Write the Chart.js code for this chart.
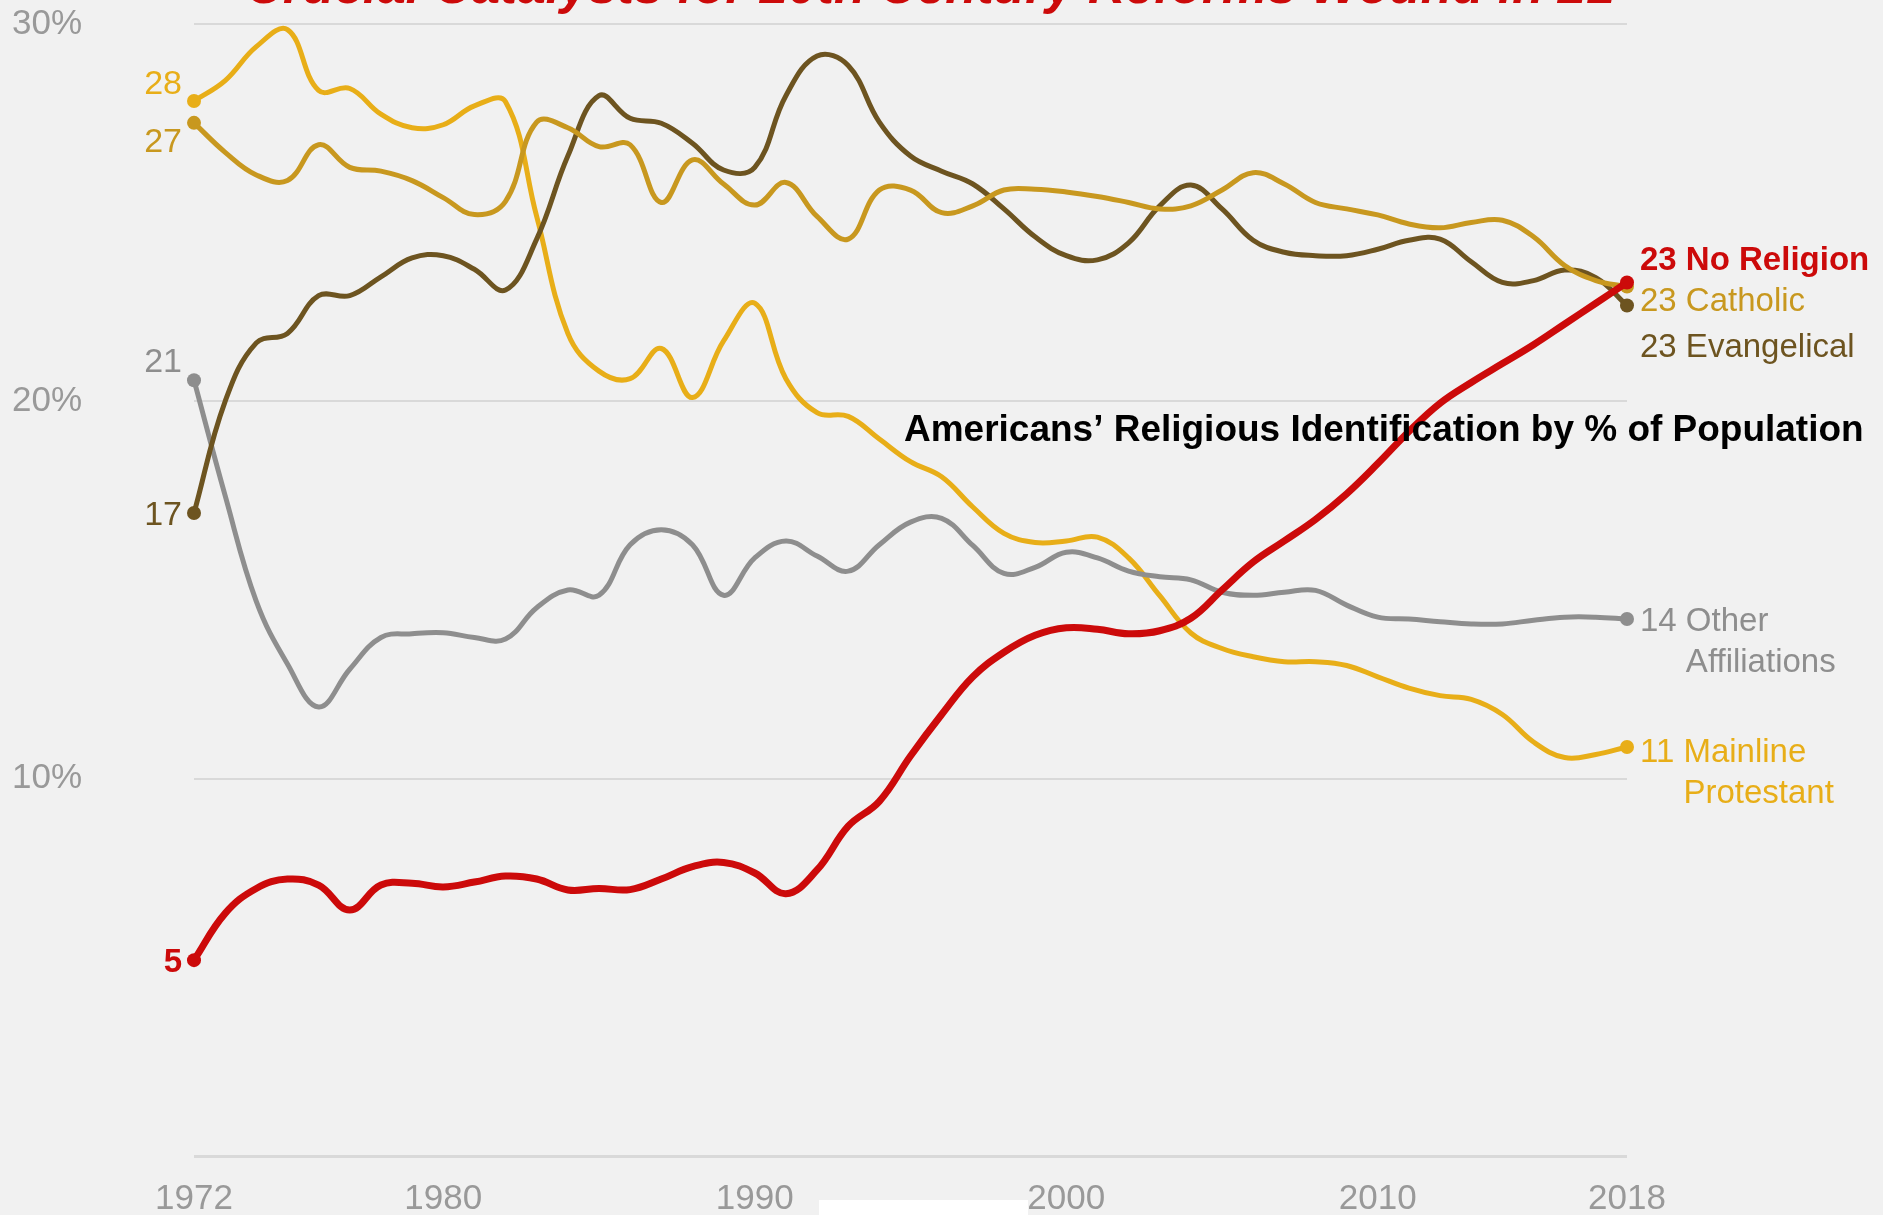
<!DOCTYPE html>
<html>
<head>
<meta charset="utf-8">
<title>Americans’ Religious Identification</title>
<script src="https://cdn.jsdelivr.net/npm/chart.js@4.4.1/dist/chart.umd.min.js"></script>
<style>
  html, body { margin: 0; padding: 0; background: #f1f1f1; }
  #wrap { width: 1883px; height: 1215px; }
</style>
</head>
<body>
<div id="wrap"><canvas id="religionChart"></canvas></div>
<script>
const years = [1972, 1973, 1974, 1975, 1976, 1977, 1978, 1979, 1980, 1981,
  1982, 1983, 1984, 1985, 1986, 1987, 1988, 1989, 1990, 1991,
  1992, 1993, 1994, 1995, 1996, 1997, 1998, 1999, 2000, 2001,
  2002, 2003, 2004, 2005, 2006, 2007, 2008, 2009, 2010, 2011,
  2012, 2013, 2014, 2015, 2016, 2017, 2018];

const noReligion = [5.19, 6.43, 7.09, 7.34, 7.18, 6.52, 7.18, 7.23, 7.13, 7.26,
  7.42, 7.34, 7.05, 7.09, 7.06, 7.34, 7.67, 7.78, 7.5, 6.95,
  7.58, 8.74, 9.4, 10.6, 11.7, 12.7, 13.35, 13.8, 14.0, 13.96,
  13.84, 13.92, 14.25, 15.0, 15.74, 16.3, 16.87, 17.55, 18.35, 19.2,
  19.95, 20.5, 21.0, 21.5, 22.05, 22.6, 23.15];

const catholic = [27.38, 26.6, 26.0, 25.85, 26.8, 26.2, 26.1, 25.85, 25.4, 24.95,
  25.3, 27.4, 27.25, 26.75, 26.8, 25.27, 26.4, 25.76, 25.2, 25.8,
  24.9, 24.3, 25.6, 25.6, 25.0, 25.18, 25.6, 25.62, 25.55, 25.43,
  25.27, 25.1, 25.18, 25.6, 26.06, 25.76, 25.27, 25.1, 24.94, 24.7,
  24.6, 24.74, 24.8, 24.36, 23.6, 23.2, 23.04];

const evangelical = [17.04, 20.0, 21.55, 21.8, 22.8, 22.8, 23.3, 23.8, 23.86, 23.5,
  22.95, 24.3, 26.5, 28.1, 27.5, 27.37, 26.84, 26.13, 26.2, 28.1,
  29.15, 28.9, 27.4, 26.5, 26.1, 25.76, 25.1, 24.36, 23.86, 23.75,
  24.2, 25.18, 25.73, 25.1, 24.27, 23.95, 23.86, 23.86, 24.03, 24.27,
  24.3, 23.7, 23.15, 23.2, 23.48, 23.28, 22.54];

const otherAffiliations = [20.56, 17.5, 14.7, 13.04, 11.9, 12.9, 13.74, 13.84, 13.87, 13.74,
  13.7, 14.53, 15.0, 14.86, 16.2, 16.6, 16.2, 14.86, 15.85, 16.3,
  15.9, 15.5, 16.2, 16.8, 16.9, 16.18, 15.44, 15.6, 16.0, 15.85,
  15.5, 15.35, 15.27, 14.94, 14.86, 14.94, 14.99, 14.6, 14.28, 14.23,
  14.16, 14.1, 14.1, 14.2, 14.28, 14.28, 14.23];

const mainline = [27.96, 28.5, 29.4, 29.85, 28.24, 28.29, 27.61, 27.25, 27.33, 27.83,
  27.94, 24.9, 21.8, 20.8, 20.6, 21.4, 20.1, 21.6, 22.6, 20.6,
  19.7, 19.6, 19.0, 18.4, 18.0, 17.2, 16.5, 16.26, 16.3, 16.4,
  15.85, 14.85, 13.86, 13.45, 13.23, 13.1, 13.1, 13.0, 12.7, 12.4,
  12.2, 12.1, 11.7, 10.97, 10.56, 10.64, 10.84];

const xTickYears = [1972, 1980, 1990, 2000, 2010, 2018];
const yTickValues = [0, 10, 20, 30];

const chartTitle = 'Crucial Catalysts for 20th Century Reforms Wound in 21';
const chartSubtitle = 'Americans’ Religious Identification by % of Population';

const FONT = '"Liberation Sans", Arial, sans-serif';
const RED = '#cc0a0a';
const CATHOLIC = '#c8981f';
const EVANGELICAL = '#6d5420';
const OTHER = '#8e8e8e';
const MAINLINE = '#e8ae18';

// label text + nudges for the start / end annotations
const series = [
  { name: 'No Religion', values: noReligion, color: RED, width: 7, bold: true,
    startDy: 0, end: ['No Religion'], endDy: -24 },
  { name: 'Catholic', values: catholic, color: CATHOLIC, width: 5,
    startDy: 17, end: ['Catholic'], endDy: 13 },
  { name: 'Evangelical', values: evangelical, color: EVANGELICAL, width: 5,
    startDy: 0, end: ['Evangelical'], endDy: 40 },
  { name: 'Other Affiliations', values: otherAffiliations, color: OTHER, width: 5,
    startDy: -20, end: ['Other', 'Affiliations'], endDy: 0 },
  { name: 'Mainline Protestant', values: mainline, color: MAINLINE, width: 5,
    startDy: -19, end: ['Mainline', 'Protestant'], endDy: 3 },
];

const ctx = document.getElementById('religionChart').getContext('2d');

function endPoint(c) {
  return (c.dataIndex === 0 || c.dataIndex === years.length - 1) ? 7 : 0;
}

// text placed by the visual middle of the capitals
function putText(c, text, x, yMid, size, color, align, weight) {
  c.save();
  c.font = (weight || '') + ' ' + size + 'px ' + FONT;
  c.fillStyle = color;
  c.textAlign = align;
  c.textBaseline = 'alphabetic';
  c.fillText(text, x, yMid + size * 0.358);
  c.restore();
}

const annotations = {
  id: 'annotations',
  beforeDraw(chart) {
    const c = chart.ctx;
    c.save();
    c.fillStyle = '#f1f1f1';
    c.fillRect(0, 0, chart.width, chart.height);
    c.restore();
  },
  afterDraw(chart) {
    const c = chart.ctx;
    const xs = chart.scales.x;
    const ys = chart.scales.y;
    const x0 = xs.getPixelForValue(years[0]);
    const x1 = xs.getPixelForValue(years[years.length - 1]);

    series.forEach(s => {
      const first = s.values[0];
      const last = s.values[s.values.length - 1];
      const weight = s.bold ? 'bold' : '';
      putText(c, String(Math.round(first)), x0 - 12, ys.getPixelForValue(first) + s.startDy,
        s.bold ? 33 : 34, s.color, 'right', weight);

      const yEnd = ys.getPixelForValue(last) + s.endDy;
      const num = Math.round(last) + ' ';
      putText(c, num + s.end[0], x1 + 13, yEnd, 33, s.color, 'left', weight);
      if (s.end[1]) {
        c.save();
        c.font = '33px ' + FONT;
        const indent = c.measureText(num).width;
        c.restore();
        putText(c, s.end[1], x1 + 13 + indent, yEnd + 41, 33, s.color, 'left', '');
      }
    });

    // subtitle inside the plot, fitted to its width
    c.save();
    c.font = 'bold 34px ' + FONT;
    let size = 34 * 960 / c.measureText(chartSubtitle).width;
    c.font = 'bold ' + size + 'px ' + FONT;
    c.fillStyle = '#000';
    c.textAlign = 'left';
    c.textBaseline = 'alphabetic';
    c.fillText(chartSubtitle, 904, 441);

    // title, mostly cut off by the top edge
    c.font = 'italic bold 46px ' + FONT;
    size = 46 * 1369 / c.measureText(chartTitle).width;
    c.font = 'italic bold ' + size + 'px ' + FONT;
    c.fillStyle = RED;
    c.fillText(chartTitle, 246, 3);

    // white patch at the bottom edge
    c.fillStyle = '#ffffff';
    c.fillRect(819, 1200, 209, 15);
    c.restore();
  }
};

const religionChart = new Chart(ctx, {
  type: 'line',
  data: {
    datasets: series.map(s => ({
      label: s.name,
      data: years.map((yr, i) => ({ x: yr, y: s.values[i] })),
      borderColor: s.color,
      backgroundColor: s.color,
      borderWidth: s.width,
      borderCapStyle: 'round',
      borderJoinStyle: 'round',
      tension: 0.4,
      pointRadius: endPoint,
      pointHoverRadius: endPoint,
      pointBorderWidth: 0,
      fill: false,
      clip: false,
    })),
  },
  options: {
    responsive: true,
    maintainAspectRatio: false,
    animation: false,
    layout: { padding: { left: 12, right: 256, top: 21, bottom: 0 } },
    plugins: {
      legend: { display: false },
      tooltip: { enabled: false },
    },
    scales: {
      x: {
        type: 'linear',
        min: years[0],
        max: years[years.length - 1],
        grid: { display: false, drawTicks: false },
        border: { display: false },
        afterBuildTicks: scale => { scale.ticks = xTickYears.map(v => ({ value: v })); },
        afterFit: scale => { scale.height = 59; },
        ticks: {
          padding: 22,
          maxRotation: 0,
          autoSkip: false,
          color: '#999999',
          font: { family: FONT, size: 35 },
          callback: v => String(v),
        },
      },
      y: {
        min: 0,
        max: 30,
        grid: {
          color: '#d9d9d9',
          lineWidth: c => (c.tick && c.tick.value === 0 ? 3 : 2),
          drawTicks: false,
        },
        border: { display: false },
        afterBuildTicks: scale => { scale.ticks = yTickValues.map(v => ({ value: v })); },
        afterFit: scale => { scale.width = 182; },
        ticks: {
          crossAlign: 'far',
          color: '#999999',
          font: { family: FONT, size: 35 },
          callback: v => (v === 0 ? '' : v + '%'),
        },
      },
    },
  },
  plugins: [annotations],
});
</script>
</body>
</html>
